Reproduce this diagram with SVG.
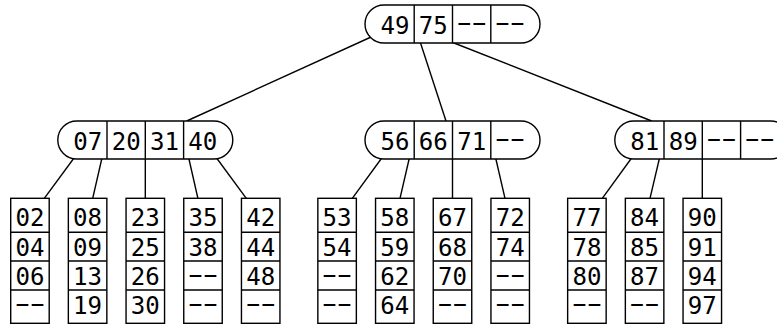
<svg xmlns="http://www.w3.org/2000/svg" width="777" height="326" viewBox="0 0 777 326">
<style>
.bg{fill:#fff}
.box{fill:#fff;stroke:#000;stroke-width:1.4}
.dv{stroke:#000;stroke-width:1.4}
.cn line{stroke:#000;stroke-width:1.4}
text{font-family:"DejaVu Sans Mono","Liberation Mono",monospace;font-size:25.5px;text-anchor:middle;fill:#000}
text.d{font-family:"Liberation Mono","DejaVu Sans Mono",monospace;font-size:25px;text-anchor:start;letter-spacing:-6.2px}
</style>
<rect class="bg" x="0" y="0" width="777" height="326"/>
<g id="connectors" class="cn">
<line x1="386.5" y1="30" x2="186.7" y2="121"/>
<line x1="417.9" y1="35" x2="446" y2="121"/>
<line x1="440" y1="37.5" x2="651.7" y2="121"/>
<line x1="79.9" y1="150" x2="44.3" y2="198.3"/>
<line x1="103.8" y1="150" x2="92.7" y2="198.3"/>
<line x1="145.3" y1="150" x2="145.3" y2="198.3"/>
<line x1="186.9" y1="150" x2="197.9" y2="198.3"/>
<line x1="210.7" y1="150" x2="246.3" y2="198.3"/>
<line x1="387.6" y1="150" x2="352.3" y2="198.3"/>
<line x1="411.2" y1="150" x2="400" y2="198.3"/>
<line x1="452.5" y1="150" x2="452.5" y2="198.3"/>
<line x1="493.8" y1="150" x2="505" y2="198.3"/>
<line x1="637.4" y1="150" x2="602.3" y2="198.3"/>
<line x1="661.4" y1="150" x2="650" y2="198.3"/>
<line x1="702.3" y1="150" x2="702.3" y2="198.3"/>
</g>
<g id="root" transform="translate(452.5,5)">
<rect class="box" x="-87.5" y="0" width="175" height="38" rx="19"/>
<line class="dv" x1="-38.3" y1="0" x2="-38.3" y2="38"/><line class="dv" x1="0" y1="0" x2="0" y2="38"/><line class="dv" x1="38.3" y1="0" x2="38.3" y2="38"/>
<text x="-57.5" y="28.5" textLength="29" lengthAdjust="spacingAndGlyphs">49</text>
<text x="-19.15" y="28.5" textLength="29" lengthAdjust="spacingAndGlyphs">75</text>
<text class="d" transform="translate(19.15,26.2) scale(1.7,1)" x="-11.9" y="0">--</text>
<text class="d" transform="translate(57.5,26.2) scale(1.7,1)" x="-11.9" y="0">--</text>
</g>
<g id="n1" transform="translate(145.3,121)">
<rect class="box" x="-87.5" y="0" width="175" height="38" rx="19"/>
<line class="dv" x1="-38.3" y1="0" x2="-38.3" y2="38"/><line class="dv" x1="0" y1="0" x2="0" y2="38"/><line class="dv" x1="38.3" y1="0" x2="38.3" y2="38"/>
<text x="-57.5" y="28.5" textLength="29" lengthAdjust="spacingAndGlyphs">07</text>
<text x="-19.15" y="28.5" textLength="29" lengthAdjust="spacingAndGlyphs">20</text>
<text x="19.15" y="28.5" textLength="29" lengthAdjust="spacingAndGlyphs">31</text>
<text x="57.5" y="28.5" textLength="29" lengthAdjust="spacingAndGlyphs">40</text>
</g>
<g id="n2" transform="translate(452.5,121)">
<rect class="box" x="-87.5" y="0" width="175" height="38" rx="19"/>
<line class="dv" x1="-38.3" y1="0" x2="-38.3" y2="38"/><line class="dv" x1="0" y1="0" x2="0" y2="38"/><line class="dv" x1="38.3" y1="0" x2="38.3" y2="38"/>
<text x="-57.5" y="28.5" textLength="29" lengthAdjust="spacingAndGlyphs">56</text>
<text x="-19.15" y="28.5" textLength="29" lengthAdjust="spacingAndGlyphs">66</text>
<text x="19.15" y="28.5" textLength="29" lengthAdjust="spacingAndGlyphs">71</text>
<text class="d" transform="translate(57.5,26.2) scale(1.7,1)" x="-11.9" y="0">--</text>
</g>
<g id="n3" transform="translate(702.3,121)">
<rect class="box" x="-87.5" y="0" width="175" height="38" rx="19"/>
<line class="dv" x1="-38.3" y1="0" x2="-38.3" y2="38"/><line class="dv" x1="0" y1="0" x2="0" y2="38"/><line class="dv" x1="38.3" y1="0" x2="38.3" y2="38"/>
<text x="-57.5" y="28.5" textLength="29" lengthAdjust="spacingAndGlyphs">81</text>
<text x="-19.15" y="28.5" textLength="29" lengthAdjust="spacingAndGlyphs">89</text>
<text class="d" transform="translate(19.15,26.2) scale(1.7,1)" x="-11.9" y="0">--</text>
<text class="d" transform="translate(57.5,26.2) scale(1.7,1)" x="-11.9" y="0">--</text>
</g>
<defs>
<g id="leafframe">
<rect class="box" x="0" y="0" width="38.5" height="125"/>
<line class="dv" x1="0" y1="34" x2="38.5" y2="34"/>
<line class="dv" x1="0" y1="62.7" x2="38.5" y2="62.7"/>
<line class="dv" x1="0" y1="91.7" x2="38.5" y2="91.7"/>
</g>
</defs>
<g id="leaf1" transform="translate(10.7,198.3)"><use href="#leafframe"/>
<text x="19.25" y="27.7" textLength="29" lengthAdjust="spacingAndGlyphs">02</text><text x="19.25" y="58.2" textLength="29" lengthAdjust="spacingAndGlyphs">04</text><text x="19.25" y="86.7" textLength="29" lengthAdjust="spacingAndGlyphs">06</text><text class="d" transform="translate(19.25,113.9) scale(1.7,1)" x="-11.9" y="0">--</text></g>
<g id="leaf2" transform="translate(68.35,198.3)"><use href="#leafframe"/>
<text x="19.25" y="27.7" textLength="29" lengthAdjust="spacingAndGlyphs">08</text><text x="19.25" y="58.2" textLength="29" lengthAdjust="spacingAndGlyphs">09</text><text x="19.25" y="86.7" textLength="29" lengthAdjust="spacingAndGlyphs">13</text><text x="19.25" y="116.2" textLength="29" lengthAdjust="spacingAndGlyphs">19</text></g>
<g id="leaf3" transform="translate(126.05,198.3)"><use href="#leafframe"/>
<text x="19.25" y="27.7" textLength="29" lengthAdjust="spacingAndGlyphs">23</text><text x="19.25" y="58.2" textLength="29" lengthAdjust="spacingAndGlyphs">25</text><text x="19.25" y="86.7" textLength="29" lengthAdjust="spacingAndGlyphs">26</text><text x="19.25" y="116.2" textLength="29" lengthAdjust="spacingAndGlyphs">30</text></g>
<g id="leaf4" transform="translate(183.75,198.3)"><use href="#leafframe"/>
<text x="19.25" y="27.7" textLength="29" lengthAdjust="spacingAndGlyphs">35</text><text x="19.25" y="58.2" textLength="29" lengthAdjust="spacingAndGlyphs">38</text><text class="d" transform="translate(19.25,84.4) scale(1.7,1)" x="-11.9" y="0">--</text><text class="d" transform="translate(19.25,113.9) scale(1.7,1)" x="-11.9" y="0">--</text></g>
<g id="leaf5" transform="translate(241.45,198.3)"><use href="#leafframe"/>
<text x="19.25" y="27.7" textLength="29" lengthAdjust="spacingAndGlyphs">42</text><text x="19.25" y="58.2" textLength="29" lengthAdjust="spacingAndGlyphs">44</text><text x="19.25" y="86.7" textLength="29" lengthAdjust="spacingAndGlyphs">48</text><text class="d" transform="translate(19.25,113.9) scale(1.7,1)" x="-11.9" y="0">--</text></g>
<g id="leaf6" transform="translate(317.85,198.3)"><use href="#leafframe"/>
<text x="19.25" y="27.7" textLength="29" lengthAdjust="spacingAndGlyphs">53</text><text x="19.25" y="58.2" textLength="29" lengthAdjust="spacingAndGlyphs">54</text><text class="d" transform="translate(19.25,84.4) scale(1.7,1)" x="-11.9" y="0">--</text><text class="d" transform="translate(19.25,113.9) scale(1.7,1)" x="-11.9" y="0">--</text></g>
<g id="leaf7" transform="translate(375.55,198.3)"><use href="#leafframe"/>
<text x="19.25" y="27.7" textLength="29" lengthAdjust="spacingAndGlyphs">58</text><text x="19.25" y="58.2" textLength="29" lengthAdjust="spacingAndGlyphs">59</text><text x="19.25" y="86.7" textLength="29" lengthAdjust="spacingAndGlyphs">62</text><text x="19.25" y="116.2" textLength="29" lengthAdjust="spacingAndGlyphs">64</text></g>
<g id="leaf8" transform="translate(433.25,198.3)"><use href="#leafframe"/>
<text x="19.25" y="27.7" textLength="29" lengthAdjust="spacingAndGlyphs">67</text><text x="19.25" y="58.2" textLength="29" lengthAdjust="spacingAndGlyphs">68</text><text x="19.25" y="86.7" textLength="29" lengthAdjust="spacingAndGlyphs">70</text><text class="d" transform="translate(19.25,113.9) scale(1.7,1)" x="-11.9" y="0">--</text></g>
<g id="leaf9" transform="translate(490.95,198.3)"><use href="#leafframe"/>
<text x="19.25" y="27.7" textLength="29" lengthAdjust="spacingAndGlyphs">72</text><text x="19.25" y="58.2" textLength="29" lengthAdjust="spacingAndGlyphs">74</text><text class="d" transform="translate(19.25,84.4) scale(1.7,1)" x="-11.9" y="0">--</text><text class="d" transform="translate(19.25,113.9) scale(1.7,1)" x="-11.9" y="0">--</text></g>
<g id="leaf10" transform="translate(567.65,198.3)"><use href="#leafframe"/>
<text x="19.25" y="27.7" textLength="29" lengthAdjust="spacingAndGlyphs">77</text><text x="19.25" y="58.2" textLength="29" lengthAdjust="spacingAndGlyphs">78</text><text x="19.25" y="86.7" textLength="29" lengthAdjust="spacingAndGlyphs">80</text><text class="d" transform="translate(19.25,113.9) scale(1.7,1)" x="-11.9" y="0">--</text></g>
<g id="leaf11" transform="translate(625.35,198.3)"><use href="#leafframe"/>
<text x="19.25" y="27.7" textLength="29" lengthAdjust="spacingAndGlyphs">84</text><text x="19.25" y="58.2" textLength="29" lengthAdjust="spacingAndGlyphs">85</text><text x="19.25" y="86.7" textLength="29" lengthAdjust="spacingAndGlyphs">87</text><text class="d" transform="translate(19.25,113.9) scale(1.7,1)" x="-11.9" y="0">--</text></g>
<g id="leaf12" transform="translate(683.05,198.3)"><use href="#leafframe"/>
<text x="19.25" y="27.7" textLength="29" lengthAdjust="spacingAndGlyphs">90</text><text x="19.25" y="58.2" textLength="29" lengthAdjust="spacingAndGlyphs">91</text><text x="19.25" y="86.7" textLength="29" lengthAdjust="spacingAndGlyphs">94</text><text x="19.25" y="116.2" textLength="29" lengthAdjust="spacingAndGlyphs">97</text></g>
</svg>
